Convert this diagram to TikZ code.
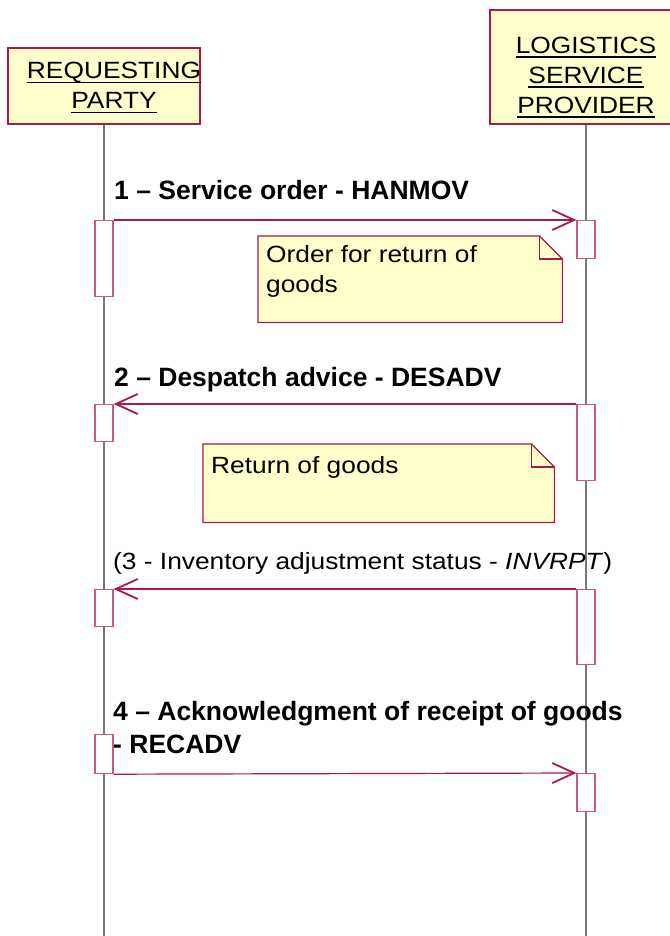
\documentclass[tikz,border=0pt]{standalone}
\usepackage{fontspec}
\setmainfont{Liberation Sans}[FakeStretch=1.12]
\newfontfamily\msgfont{Liberation Sans}
\usetikzlibrary{arrows.meta,backgrounds}

\definecolor{umlred}{RGB}{170,25,75}
\definecolor{actred}{RGB}{200,90,130}
\definecolor{noteyellow}{RGB}{255,255,204}
\definecolor{lifegray}{RGB}{120,120,120}

% underline at a fixed distance below the baseline
\newcommand\ulined[1]{\leavevmode\setbox0\hbox{#1}\rlap{\rule[-4.5pt]{\wd0}{1.6pt}}\box0}

\tikzset{
  header/.style={draw=umlred, line width=1.2pt, fill=noteyellow, inner sep=0pt,
                 align=center, font=\fontsize{23.5}{30}\selectfont},
  actbox/.style={draw=actred, line width=1.2pt, fill=white, minimum width=18pt,
                 inner sep=0pt, anchor=north},
  notetext/.style={inner xsep=8pt, inner ysep=4pt, anchor=north west,
                   font=\fontsize{23.5}{30}\selectfont},
  notebg/.style={fill=noteyellow, draw=umlred, line width=1.2pt, line join=miter},
  msglabel/.style={anchor=base west, inner sep=0pt,
                   font=\msgfont\bfseries\fontsize{26.5}{33}\selectfont},
  msg/.style={draw=umlred, line width=1.2pt,
              -{Straight Barb[length=22pt,width=20pt,line width=1.8pt]}},
  lifeline/.style={draw=lifegray, line width=1.5pt},
}

\begin{document}
\begin{tikzpicture}[x=1pt,y=-1pt]
\useasboundingbox (0,0) rectangle (669,936);

% participants
\node[header, minimum width=192pt, minimum height=76pt] (rp) at (104,86)
  {\hspace*{20pt}\makebox[172pt]{\rule{0pt}{20.5pt}\ulined{REQUESTING}}\\
   \hspace*{20pt}\makebox[172pt]{\ulined{PARTY}}};
\node[header, minimum width=192pt, minimum height=114pt] (lsp) at (586,67)
  {\rule{0pt}{37pt}\ulined{LOGISTICS}\\\ulined{SERVICE}\\\ulined{PROVIDER}};

% lifelines
\coordinate (rpend) at (104,936);
\coordinate (lspend) at (586,936);
\draw[lifeline] (rp.south) -- (rpend);
\draw[lifeline] (lsp.south) -- (lspend);

% activations of the requesting party
\node[actbox, minimum height=76pt] (a1) at (104,220) {};
\node[actbox, minimum height=37pt] (a2) at (104,404) {};
\node[actbox, minimum height=37pt] (a3) at (104,589) {};
\node[actbox, minimum height=39pt] (a4) at (104,734) {};

% activations of the logistics service provider
\node[actbox, minimum height=38pt] (b1) at (586,220) {};
\node[actbox, minimum height=76pt] (b2) at (586,404) {};
\node[actbox, minimum height=75pt] (b3) at (586,589) {};
\node[actbox, minimum height=38pt] (b4) at (586,773) {};

% messages
\node[msglabel] (l1) at (114,199) {1 – Service order - HANMOV};
\draw[msg] (a1.north east) -- (b1.north west);

\node[msglabel] (l2) at (114,386) {2 – Despatch advice - DESADV};
\draw[msg] (b2.north west) -- (a2.north east);

\node[msglabel, font=\fontsize{23.5}{30}\selectfont] (l3) at (113,569)
  {(3 - Inventory adjustment status - \textit{INVRPT})};
\draw[msg] (b3.north west) -- (a3.north east);

\node[msglabel] (l4) at (113,720)
  {\parbox[t]{560pt}{4 – Acknowledgment of receipt of goods\\- RECADV}};
\draw[msg] (a4.south east) -- (b4.north west);

% notes
\node[notetext] (n1) at (258,236)
  {\parbox[t][78pt][t]{288pt}{\rule{0pt}{22pt}Order for return of\\goods}};
\node[notetext] (n2) at (203,444)
  {\parbox[t][70pt][t]{335pt}{\rule{0pt}{25pt}Return of goods}};

\begin{scope}[on background layer]
  \foreach \n in {n1,n2} {
    \path[notebg] (\n.north west) -- ([xshift=-23pt]\n.north east)
      -- ([yshift=-23pt]\n.north east) -- (\n.south east) -- (\n.south west) -- cycle;
    \draw[umlred, line width=1.2pt] ([xshift=-23pt]\n.north east)
      |- ([yshift=-23pt]\n.north east);
  }
\end{scope}
\end{tikzpicture}
\end{document}
